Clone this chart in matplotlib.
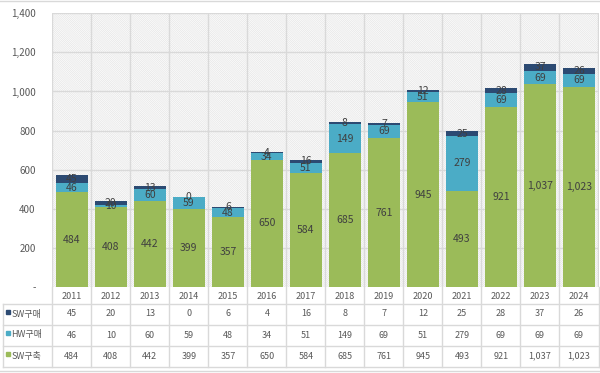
import matplotlib
matplotlib.use("Agg")
import matplotlib.pyplot as plt
from matplotlib.patches import Rectangle
from matplotlib.lines import Line2D
import numpy as np

plt.rcParams['font.family'] = ['Noto Sans CJK KR', 'DejaVu Sans']
plt.rcParams['hatch.linewidth'] = 0.6

years = ['2011', '2012', '2013', '2014', '2015', '2016', '2017', '2018', '2019', '2020', '2021', '2022', '2023', '2024']
sw_build = [484, 408, 442, 399, 357, 650, 584, 685, 761, 945, 493, 921, 1037, 1023]
hw_buy = [46, 10, 60, 59, 48, 34, 51, 149, 69, 51, 279, 69, 69, 69]
sw_buy = [45, 20, 13, 0, 6, 4, 16, 8, 7, 12, 25, 28, 37, 26]
series_names = ['SW구매', 'HW구매', 'SW구축']
yticks = [0, 200, 400, 600, 800, 1000, 1200, 1400]

C_BUILD = '#9BBB59'
C_HW = '#4BACC6'
C_SW = '#2C4A72'
TXT = '#595959'
LBL = '#404040'
GRID = '#D9D9D9'

W, H = 600, 373
fig = plt.figure(figsize=(6.0, 3.73), dpi=100)

L, R, T, B = 52.3, 598.5, 13.3, 287.0
ax = fig.add_axes([L / W, 1 - B / H, (R - L) / W, (B - T) / H])
n = len(years)
x = np.arange(n)
ax.set_xlim(-0.5, n - 0.5)
ax.set_ylim(0, 1400)

# hatched background
ax.add_patch(Rectangle((-0.5, 0), n, 1400, facecolor='white', edgecolor='#E8E8E8',
                       hatch='\\' * 16, linewidth=0, zorder=0))

for y in yticks[1:]:
    ax.axhline(y, color=GRID, lw=1.0, zorder=1)
for b in np.arange(-0.5, n, 1.0):
    ax.axvline(b, color=GRID, lw=1.0, zorder=1)

bw = 0.82
b1 = np.array(sw_build)
b2 = b1 + np.array(hw_buy)
ax.bar(x, sw_build, width=bw, color=C_BUILD, zorder=2)
ax.bar(x, hw_buy, width=bw, bottom=b1, color=C_HW, zorder=2)
ax.bar(x, sw_buy, width=bw, bottom=b2, color=C_SW, zorder=2)

fs = 7.5
for i in range(n):
    ax.text(x[i], sw_build[i] / 2, f"{sw_build[i]:,}", ha='center', va='center', fontsize=fs, color=LBL, zorder=3)
    ax.text(x[i], b1[i] + hw_buy[i] / 2, f"{hw_buy[i]:,}", ha='center', va='center', fontsize=fs, color=LBL, zorder=3)
    ax.text(x[i], b2[i] + sw_buy[i] / 2, f"{sw_buy[i]:,}", ha='center', va='center', fontsize=fs, color=LBL, zorder=3)

for s in ax.spines.values():
    s.set_visible(False)
ax.set_xticks([])
ax.set_yticks(yticks)
ax.set_yticklabels(['-' if v == 0 else f"{v:,}" for v in yticks], fontsize=7, color=TXT)
ax.tick_params(axis='y', length=0, pad=12)

# overlay axes in pixel coordinates for table
ov = fig.add_axes([0, 0, 1, 1], zorder=5)
ov.set_xlim(0, W)
ov.set_ylim(H, 0)
ov.axis('off')
ov.patch.set_alpha(0)

colw = (R - L) / n
rows_y = [B, 303.5, 324.5, 345.5, 367.0]
left_tbl = 3.0

for k in range(n + 1):
    xx = L + k * colw
    ov.add_line(Line2D([xx, xx], [B, rows_y[-1]], color=GRID, lw=1.0))
ov.add_line(Line2D([left_tbl, left_tbl], [rows_y[1], rows_y[-1]], color=GRID, lw=1.0))
for yy in rows_y[1:]:
    ov.add_line(Line2D([left_tbl, R], [yy, yy], color=GRID, lw=1.0))

for i in range(n):
    cx = L + (i + 0.5) * colw
    ov.text(cx, (rows_y[0] + rows_y[1]) / 2 + 1, years[i], ha='center', va='center', fontsize=6.5, color=TXT)

row_data = [sw_buy, hw_buy, sw_build]
row_cols = [C_SW, C_HW, C_BUILD]
for r in range(3):
    cy = (rows_y[r + 1] + rows_y[r + 2]) / 2
    ov.add_patch(Rectangle((5.5, cy - 4.5), 4.5, 4.5, color=row_cols[r]))
    ov.text(11.5, cy, series_names[r], ha='left', va='center', fontsize=6.5, color=TXT)
    for i in range(n):
        cx = L + (i + 0.5) * colw
        ov.text(cx, cy, f"{row_data[r][i]:,}", ha='center', va='center', fontsize=6.5, color=TXT)

ov.add_line(Line2D([0, W], [1, 1], color=GRID, lw=1.0))
ov.add_line(Line2D([0, W], [370.5, 370.5], color=GRID, lw=1.0))

fig.savefig('out.png', dpi=100)
